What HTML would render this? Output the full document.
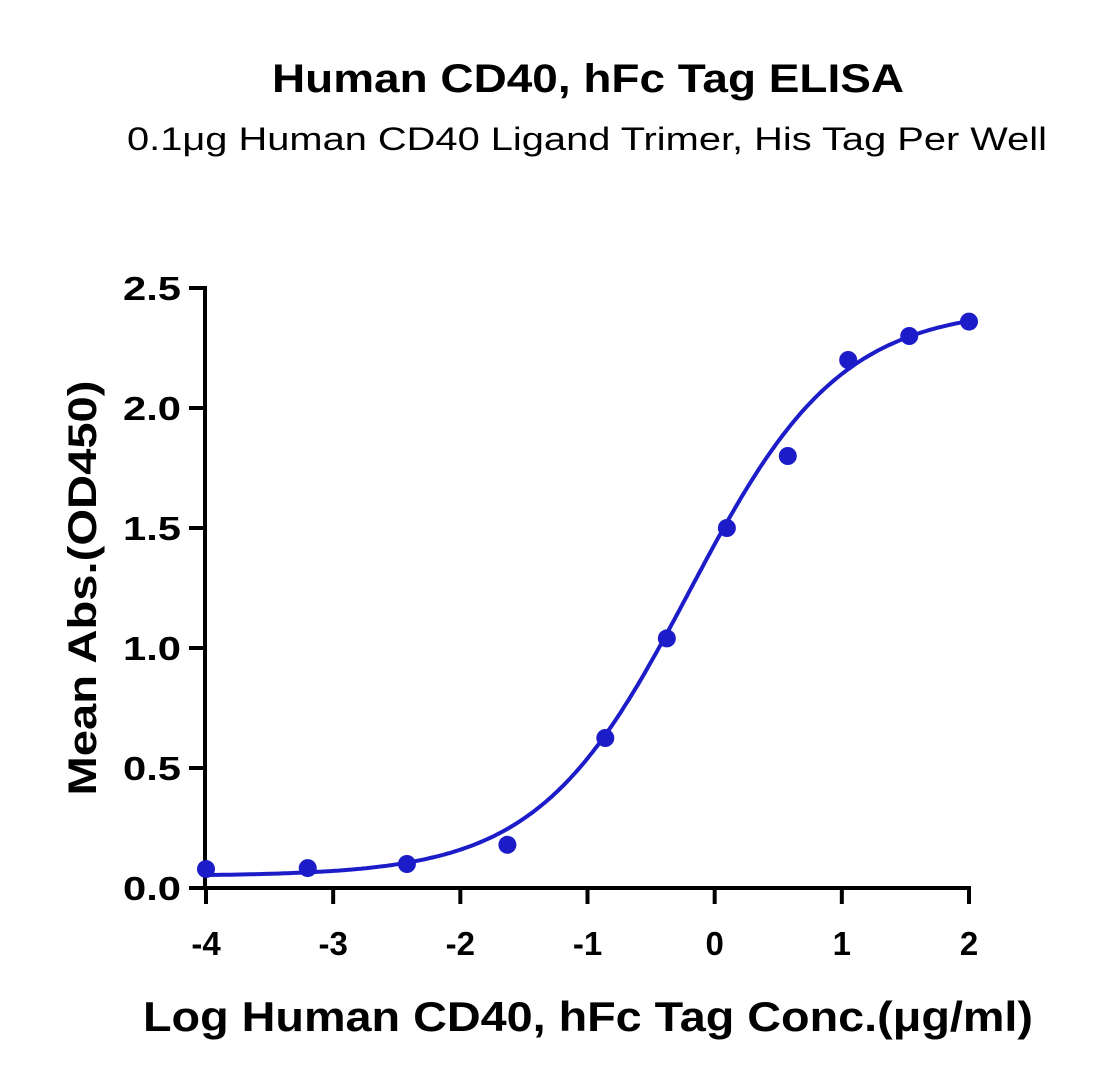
<!DOCTYPE html>
<html><head><meta charset="utf-8"><style>
html,body{margin:0;padding:0;background:#fff;}
svg{display:block;font-family:"Liberation Sans","DejaVu Sans",sans-serif;}
</style></head><body>
<svg id="chart" width="1102" height="1087" viewBox="0 0 1102 1087">
<text x="588" y="92" text-anchor="middle" font-size="40" font-weight="bold" textLength="632" lengthAdjust="spacingAndGlyphs">Human CD40, hFc Tag ELISA</text>
<text x="587" y="150" text-anchor="middle" font-size="32" textLength="920" lengthAdjust="spacingAndGlyphs">0.1μg Human CD40 Ligand Trimer, His Tag Per Well</text>
<text transform="translate(96,588) rotate(-90)" text-anchor="middle" font-size="40" font-weight="bold" textLength="415" lengthAdjust="spacingAndGlyphs">Mean Abs.(OD450)</text>
<text x="588" y="1031" text-anchor="middle" font-size="42" font-weight="bold" textLength="890" lengthAdjust="spacingAndGlyphs">Log Human CD40, hFc Tag Conc.(μg/ml)</text>
<g id="axes"></g>
<g id="plot"></g>
</svg>
<script>
const xTicks = [-4,-3,-2,-1,0,1,2];
const yTicks = [0,0.5,1.0,1.5,2.0,2.5];
const yTickLabels = ["0.0","0.5","1.0","1.5","2.0","2.5"];
const logConc = [-4,-3.2,-2.42,-1.63,-0.86,-0.376,0.096,0.575,1.05,1.53,2];
const absValues = [0.079,0.083,0.10,0.18,0.625,1.04,1.5,1.8,2.2,2.30,2.36];
const fitParams = [0.05,2.42,-0.2,0.73]; // bottom, top, logEC50, hill

const NS="http://www.w3.org/2000/svg";
const X0=206,X1=969,Y0=888,Y1=288;
const sx=v=>X0+(v-(-4))/(2-(-4))*(X1-X0);
const sy=v=>Y0-(v-0)/(2.5-0)*(Y0-Y1);
function mk(tag,attrs,parent){const e=document.createElementNS(NS,tag);for(const k in attrs)e.setAttribute(k,attrs[k]);parent.appendChild(e);return e;}
const axes=document.getElementById('axes'), plot=document.getElementById('plot');

let yl=mk('line',{x1:X0-1,y1:Y0+2,x2:X0-1,y2:Y1-2,stroke:'#000','stroke-width':4},axes);


let xl=mk('line',{x1:X0-3,y1:Y0,x2:X1+2,y2:Y0,stroke:'#000','stroke-width':4},axes);



yTicks.forEach((v,i)=>{
  const t=mk('line',{x1:X0-17,y1:sy(v),x2:X0-1,y2:sy(v),stroke:'#000','stroke-width':4},axes);
  
  
  const l=mk('text',{x:X0-25,y:sy(v)+12,'text-anchor':'end','font-size':33,'font-weight':'bold',textLength:58,lengthAdjust:'spacingAndGlyphs'},axes);
  l.textContent=yTickLabels[i];
  
  
});
xTicks.forEach(v=>{
  const t=mk('line',{x1:sx(v),y1:Y0,x2:sx(v),y2:Y0+16,stroke:'#000','stroke-width':4},axes);
  
  
  const l=mk('text',{x:sx(v),y:Y0+67,'text-anchor':'middle','font-size':33,'font-weight':'bold'},axes);
  l.textContent=String(v);
  
  
});

const [B,T,EC,H]=fitParams;
let d='';
for(let i=0;i<=300;i++){const x=-4+6*i/300;const y=B+(T-B)/(1+Math.pow(10,(EC-x)*H));d+=(i?'L':'M')+sx(x).toFixed(1)+' '+sy(y).toFixed(1);}
const c=mk('path',{d:d,fill:'none',stroke:'#1c1cc8','stroke-width':4},plot);


logConc.forEach((x,i)=>{
  const p=mk('circle',{cx:sx(x),cy:sy(absValues[i]),r:9,fill:'#1c1cc8'},plot);
  
  
});
</script>
</body></html>
